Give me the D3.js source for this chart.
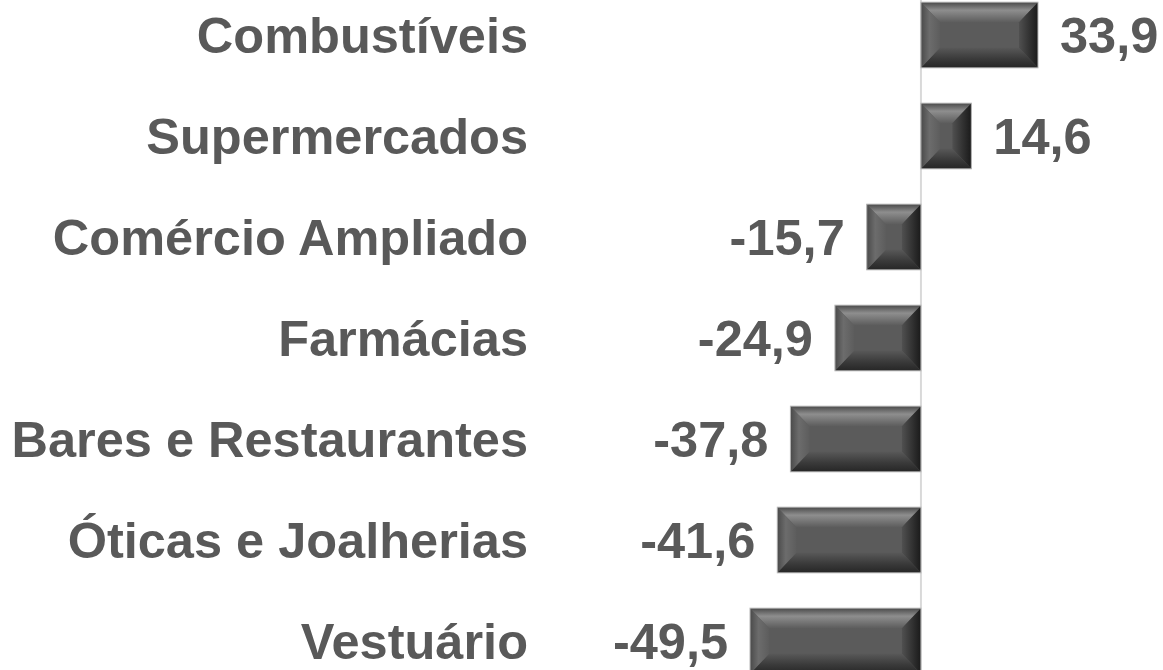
<!DOCTYPE html>
<html>
<head>
<meta charset="utf-8">
<script src="https://cdn.jsdelivr.net/npm/d3@7"></script>
<style>
  html, body { margin: 0; padding: 0; background: #fff; overflow: hidden; }
</style>
</head>
<body>
<div id="chart-area"></div>
<script>

// Data
let categories = ["Combustíveis", "Supermercados", "Comércio Ampliado", "Farmácias",
                  "Bares e Restaurantes", "Óticas e Joalherias", "Vestuário"];
let values = [33.9, 14.6, -15.7, -24.9, -37.8, -41.6, -49.5];

let data = categories.map((c, i) => ({cat: c, val: values[i]}));

let width = 1163, height = 670;

let svg = d3.select("#chart-area").append("svg")
    .attr("width", width)
    .attr("height", height);

// decimal comma, plain hyphen for negatives
let fmt = v => d3.format(".1f")(v).replace(".", ",").replace("\u2212", "-");

// scales
let x = d3.scaleLinear()
    .domain([d3.min(values), d3.max(values)])
    .range([750, 1038]);

let y = d3.scaleBand()
    .domain(categories)
    .range([-15.5, 691.5])
    .paddingInner(0.35)
    .paddingOuter(0.175);

// gradients for the bevel
let defs = svg.append("defs");
function grad(id, x1, y1, x2, y2, stops) {
  let g = defs.append("linearGradient").attr("id", id)
      .attr("x1", x1).attr("y1", y1).attr("x2", x2).attr("y2", y2);
  stops.forEach(s => g.append("stop").attr("offset", s[0]).attr("stop-color", s[1]));
}
grad("bTop", 0, 0, 0, 1, [[0, "#4a4a4a"], [0.4, "#8e8e8e"], [1, "#5d5d5d"]]);
grad("bBot", 0, 0, 0, 1, [[0, "#585858"], [0.55, "#3a3a3a"], [1, "#262626"]]);
grad("bLeft", 0, 0, 1, 0, [[0, "#4a4a4a"], [0.45, "#6c6c6c"], [1, "#5d5d5d"]]);
grad("bRight", 0, 0, 1, 0, [[0, "#505050"], [0.6, "#2f2f2f"], [1, "#1a1a1a"]]);

// axis line
svg.append("line")
    .attr("x1", x(0)).attr("x2", x(0))
    .attr("y1", 0).attr("y2", height)
    .attr("stroke", "#d9d9d9")
    .attr("stroke-width", 2);

// bars
let bars = svg.selectAll(".bar")
    .data(data)
    .enter()
    .append("g")
    .attr("class", "bar");

bars.each(function(d) {
  let g = d3.select(this);
  let x0 = Math.min(x(0), x(d.val)), x1 = Math.max(x(0), x(d.val));
  let y0 = y(d.cat), y1 = y(d.cat) + y.bandwidth();
  let w = x1 - x0, h = y1 - y0;
  let bv = Math.min(20, h / 2 - 4);
  let bh = Math.min(19, w / 2 - 1);

  g.append("rect")
      .attr("x", x0).attr("y", y0).attr("width", w).attr("height", h)
      .attr("fill", "#5b5b5b");
  g.append("polygon")
      .attr("points", [[x0, y0], [x1, y0], [x1 - bh, y0 + bv], [x0 + bh, y0 + bv]].join(" "))
      .attr("fill", "url(#bTop)");
  g.append("polygon")
      .attr("points", [[x0, y1], [x1, y1], [x1 - bh, y1 - bv], [x0 + bh, y1 - bv]].join(" "))
      .attr("fill", "url(#bBot)");
  g.append("polygon")
      .attr("points", [[x0, y0], [x0 + bh, y0 + bv], [x0 + bh, y1 - bv], [x0, y1]].join(" "))
      .attr("fill", "url(#bLeft)");
  g.append("polygon")
      .attr("points", [[x1, y0], [x1 - bh, y0 + bv], [x1 - bh, y1 - bv], [x1, y1]].join(" "))
      .attr("fill", "url(#bRight)");
  g.append("rect")
      .attr("x", x0).attr("y", y0).attr("width", w).attr("height", h)
      .attr("fill", "none")
      .attr("stroke", "#b8b8b8")
      .attr("stroke-width", 1);
});

// category labels
svg.selectAll(".cat")
    .data(data)
    .enter()
    .append("text")
    .attr("class", "cat")
    .attr("x", 528)
    .attr("y", d => y(d.cat) + y.bandwidth() / 2)
    .attr("dy", "0.35em")
    .attr("text-anchor", "end")
    .attr("font-family", "'Liberation Sans', Arial, sans-serif")
    .attr("font-weight", "bold")
    .attr("font-size", 50.5)
    .attr("fill", "#595959")
    .text(d => d.cat);

// value labels
svg.selectAll(".val")
    .data(data)
    .enter()
    .append("text")
    .attr("class", "val")
    .attr("x", d => d.val >= 0 ? x(d.val) + 22 : x(d.val) - 22)
    .attr("y", d => y(d.cat) + y.bandwidth() / 2)
    .attr("dy", "0.35em")
    .attr("text-anchor", d => d.val >= 0 ? "start" : "end")
    .attr("font-family", "'Liberation Sans', Arial, sans-serif")
    .attr("font-weight", "bold")
    .attr("font-size", 50.5)
    .attr("fill", "#595959")
    .text(d => fmt(d.val));

</script>
</body>
</html>
